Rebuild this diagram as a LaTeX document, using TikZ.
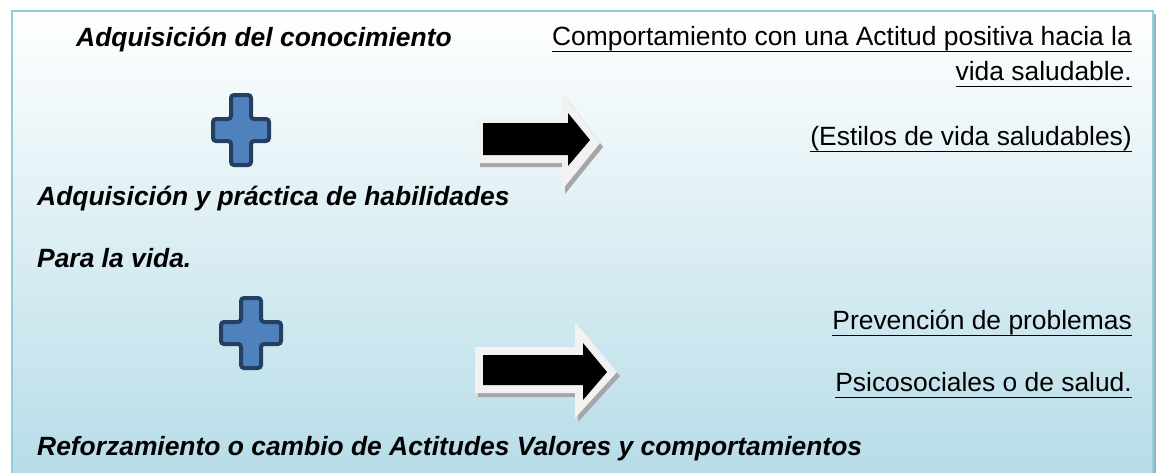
\documentclass[tikz,border=0pt]{standalone}
\usepackage{fontspec}
\setmainfont{Liberation Sans}
\newsavebox{\ulbox}
\newcommand{\myul}[1]{\sbox{\ulbox}{#1}\rlap{\rule[-7.4pt]{\wd\ulbox}{1.8pt}}\usebox{\ulbox}}
\definecolor{boxborder}{RGB}{146,205,220}
\definecolor{boxbottom}{RGB}{182,220,231}
\definecolor{boxshadow}{RGB}{150,180,190}
\definecolor{plusfill}{RGB}{79,129,189}
\definecolor{plusdraw}{RGB}{36,63,96}
\definecolor{arrowrim}{RGB}{242,242,242}
\definecolor{arrowshadow}{RGB}{166,166,166}
\tikzset{
  lefttext/.style={anchor=base west, inner sep=0pt, font=\fontsize{26.4}{30}\selectfont\bfseries\itshape},
  righttext/.style={anchor=base east, inner sep=0pt, font=\fontsize{26.4}{30}\selectfont},
  plusshape/.style={fill=plusfill, draw=plusdraw, line width=4pt, rounded corners=3pt},
  arrowouter/.style={fill=arrowrim},
  arrowinner/.style={fill=black},
  arrowshade/.style={fill=arrowshadow},
}
\begin{document}
\begin{tikzpicture}[x=1pt,y=-1pt]
\useasboundingbox (0,0) rectangle (1156,472);
\clip (0,0) rectangle (1156,472);
% panel
\fill[boxshadow] (15,14) rectangle (1156,490);
\shade[top color=white, bottom color=boxbottom] (12,11) rectangle (1153,480);
\draw[boxborder, line width=2pt] (12,11) rectangle (1153,480);

% texts
\node[lefttext] (t1) at (76,46) {Adquisición del conocimiento};
\node[righttext] (r1) at (1132,45) {\myul{Comportamiento con una Actitud positiva hacia la}};
\node[righttext] (r2) at (1132,80) {\myul{vida saludable.}};
\node[righttext] (r3) at (1132,145) {\myul{(Estilos de vida saludables)}};
\node[lefttext] (t2) at (37,205) {Adquisición y práctica de habilidades};
\node[lefttext] (t3) at (37,267) {Para la vida.};
\node[righttext] (r4) at (1132,329) {\myul{Prevención de problemas}};
\node[righttext] (r5) at (1132,391) {\myul{Psicosociales o de salud.}};
\node[lefttext] (t4) at (37,455) {Reforzamiento o cambio de Actitudes Valores y comportamientos};

% plus signs
\begin{scope}[shift={(241,130)}]
\draw[plusshape] (-10,-35) -- (10,-35) -- (10,-11) -- (28,-11) -- (28,11) -- (10,11) -- (10,35) -- (-10,35) -- (-10,11) -- (-28,11) -- (-28,-11) -- (-10,-11) -- cycle;
\end{scope}
\begin{scope}[shift={(251,333)}]
\draw[plusshape] (-10,-35) -- (10,-35) -- (10,-11) -- (30,-11) -- (30,11) -- (10,11) -- (10,35) -- (-10,35) -- (-10,11) -- (-30,11) -- (-30,-11) -- (-10,-11) -- cycle;
\end{scope}

% arrow 1
\fill[arrowshade] (480,121) -- (565,121) -- (565,96) -- (603,147) -- (565,194) -- (565,167) -- (480,167) -- cycle;
\fill[arrowouter] (477,117) -- (562,117) -- (562,92) -- (600,143) -- (562,190) -- (562,163) -- (477,163) -- cycle;
\fill[arrowinner] (483,123) -- (568,123) -- (568,113) -- (590,140) -- (568,166) -- (568,155) -- (483,155) -- cycle;

% arrow 2
\fill[arrowshade] (478,351) -- (578,351) -- (578,326) -- (620,376) -- (578,422) -- (578,397) -- (478,397) -- cycle;
\fill[arrowouter] (475,347) -- (575,347) -- (575,322) -- (617,372) -- (575,418) -- (575,393) -- (475,393) -- cycle;
\fill[arrowinner] (483,355) -- (583,355) -- (583,343) -- (607,372) -- (583,400) -- (583,385) -- (483,385) -- cycle;
\end{tikzpicture}
\end{document}
